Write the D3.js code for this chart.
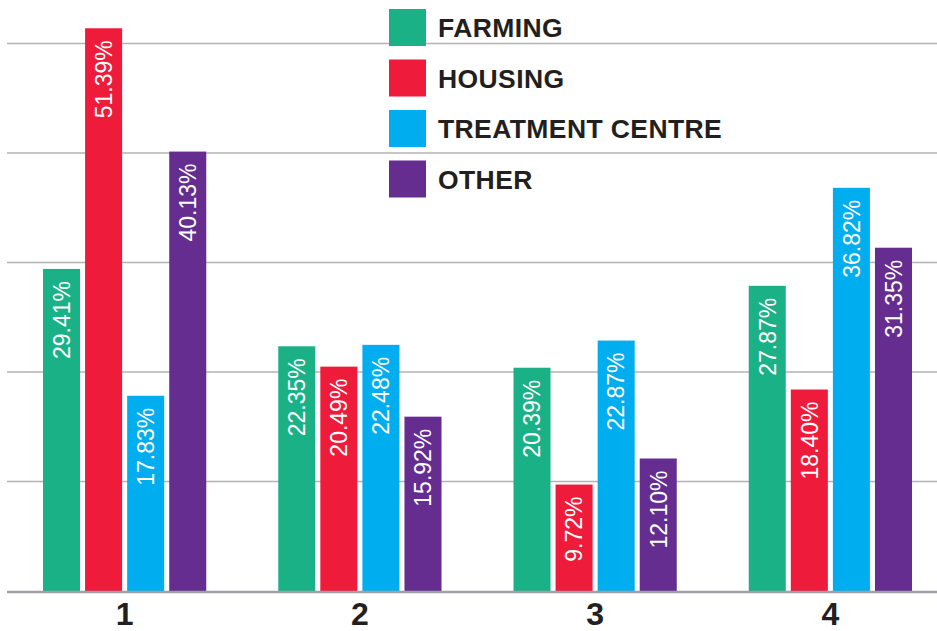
<!DOCTYPE html>
<html>
<head>
<meta charset="utf-8">
<script src="https://cdn.jsdelivr.net/npm/d3@7"></script>
<style>
  html, body { margin: 0; padding: 0; background: #fff; }
  svg { display: block; }
</style>
</head>
<body>
<svg width="937" height="631"></svg>
<script>
// --- Dados ---
const categories = ['1', '2', '3', '4'];
const seriesNames = ['FARMING', 'HOUSING', 'TREATMENT CENTRE', 'OTHER'];
const farming = [29.41, 22.35, 20.39, 27.87];
const housing = [51.39, 20.49, 9.72, 18.40];
const treatment = [17.83, 22.48, 22.87, 36.82];
const other = [40.13, 15.92, 12.10, 31.35];
const gridTicks = [10, 20, 30, 40, 50];

const seriesValues = [farming, housing, treatment, other];
const colors = ['#1bb187', '#ee1b3a', '#00aeef', '#642d8f'];

const data = categories.map((c, i) => ({
    cat: c,
    values: seriesNames.map((s, k) => ({ key: s, value: seriesValues[k][i] }))
}));

const svg = d3.select('svg');
const width = +svg.attr('width');

// --- Escalas ---
const x0 = d3.scaleBand()
    .domain(categories)
    .range([43, 912])
    .paddingInner(0.306)
    .paddingOuter(0);

const x1 = d3.scaleBand()
    .domain(seriesNames)
    .range([0, x0.bandwidth()])
    .paddingInner(0.12)
    .paddingOuter(0);

const y = d3.scaleLinear()
    .domain([0, 50])
    .range([591, 43.5]);

const color = d3.scaleOrdinal().domain(seriesNames).range(colors);

// --- Linhas de grade ---
svg.append('g')
    .selectAll('line')
    .data(gridTicks)
    .join('line')
        .attr('x1', 7)
        .attr('x2', width)
        .attr('y1', d => y(d))
        .attr('y2', d => y(d))
        .attr('stroke', '#b3b3b3')
        .attr('stroke-width', 1.5);

// --- Barras ---
const groups = svg.append('g')
    .selectAll('g')
    .data(data)
    .join('g')
        .attr('transform', d => `translate(${x0(d.cat)},0)`);

groups.selectAll('rect')
    .data(d => d.values)
    .join('rect')
        .attr('x', d => x1(d.key))
        .attr('y', d => y(d.value))
        .attr('width', x1.bandwidth())
        .attr('height', d => y(0) - y(d.value))
        .attr('fill', d => color(d.key));

// rótulos de valor (rotacionados)
groups.selectAll('text')
    .data(d => d.values)
    .join('text')
        .attr('transform', d => `translate(${x1(d.key) + x1.bandwidth() / 2},${y(d.value) + 12}) rotate(-90)`)
        .attr('dy', '0.36em')
        .attr('text-anchor', 'end')
        .attr('fill', '#fff')
        .style('font-family', '"Liberation Sans", Arial, sans-serif')
        .style('font-size', '23px')
        .text(d => d.value.toFixed(2) + '%');

// --- Linha base ---
svg.append('line')
    .attr('x1', 7)
    .attr('x2', width)
    .attr('y1', y(0) + 1)
    .attr('y2', y(0) + 1)
    .attr('stroke', '#a0a0a6')
    .attr('stroke-width', 2.5);

// --- Eixo X (rótulos das categorias) ---
const eixoX = d3.axisBottom(x0).tickSize(0).tickPadding(0);
svg.append('g')
    .attr('transform', `translate(0,${y(0)})`)
    .call(eixoX)
    .call(g => g.select('.domain').remove())
    .selectAll('text')
        .attr('y', 34)
        .attr('dy', 0)
        .attr('fill', '#231f20')
        .style('font-family', '"Liberation Sans", Arial, sans-serif')
        .style('font-weight', 'bold')
        .style('font-size', '32px');

// --- Legenda ---
const legend = svg.append('g')
    .selectAll('g')
    .data(seriesNames)
    .join('g')
        .attr('transform', (d, i) => `translate(389,${9 + i * 50.5})`);

legend.append('rect')
    .attr('width', 37)
    .attr('height', 37)
    .attr('fill', d => color(d));

legend.append('text')
    .attr('x', 49)
    .attr('y', 28)
    .attr('fill', '#231f20')
    .style('font-family', '"Liberation Sans", Arial, sans-serif')
    .style('font-weight', 'bold')
    .style('font-size', '26.5px')
    .style('letter-spacing', '0.4px')
    .text(d => d);
</script>
</body>
</html>
